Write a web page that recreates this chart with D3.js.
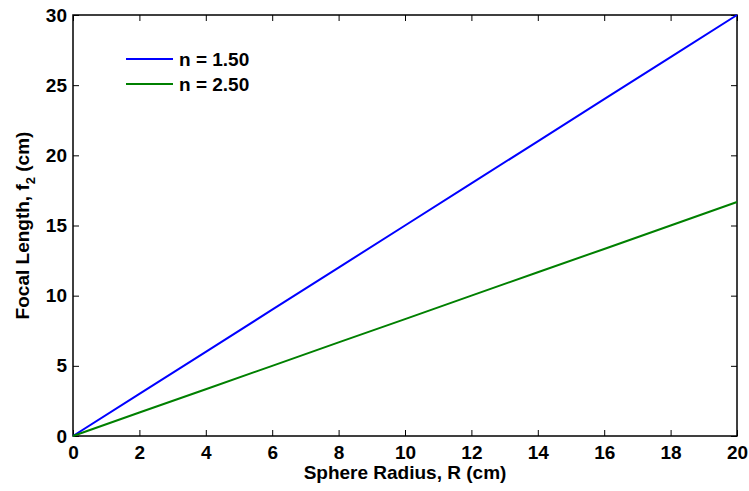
<!DOCTYPE html>
<html>
<head>
<meta charset="utf-8">
<script src="https://cdn.jsdelivr.net/npm/d3@7"></script>
<style>
  html, body { margin: 0; padding: 0; background: #fff; overflow: hidden; }
  svg { display: block; }
  text { font-family: "Liberation Sans", Arial, sans-serif; font-weight: bold; }
</style>
</head>
<body>
<svg class="chart"></svg>
<script>
const svgWidth = 749;
const svgHeight = 491;

// sphere radius R (cm)
const radius = [0, 2, 4, 6, 8, 10, 12, 14, 16, 18, 20];
// focal length f2 (cm)
const focalN150 = [0, 3, 6, 9, 12, 15, 18, 21, 24, 27, 30];
const focalN250 = [0, 1.67, 3.33, 5, 6.67, 8.33, 10, 11.67, 13.33, 15, 16.67];
const seriesNames = ["n = 1.50", "n = 2.50"];
const seriesColors = ["#0000ff", "#008000"];
const xTicks = [0, 2, 4, 6, 8, 10, 12, 14, 16, 18, 20];
const yTicks = [0, 5, 10, 15, 20, 25, 30];

var fontSize = 19;
var margin = { top: 15, right: 12, bottom: 55, left: 73 };
var innerWidth = svgWidth - margin.left - margin.right;
var innerHeight = svgHeight - margin.top - margin.bottom;

const svg = d3.select('.chart')
  .attr("width", svgWidth)
  .attr("height", svgHeight);

var graph = svg.append("g")
  .attr("transform", "translate(" + margin.left + "," + margin.top + ")");

var x = d3.scaleLinear().domain([0, 20]).range([0, innerWidth]);
var y = d3.scaleLinear().domain([0, 30]).range([innerHeight, 0]);

// axes, ticks pointing inward like matlab
function styleAxis(g) {
  g.attr("font-size", fontSize);
  g.select(".domain").remove();
  g.selectAll(".tick line").attr("stroke", "#000").attr("stroke-width", 1);
  g.selectAll(".tick text").attr("font-size", fontSize).attr("fill", "#000");
}

graph.append("g")
  .attr("transform", "translate(0," + innerHeight + ")")
  .call(d3.axisBottom(x).tickValues(xTicks).tickSize(-6).tickPadding(10))
  .call(styleAxis);

graph.append("g")
  .call(d3.axisLeft(y).tickValues(yTicks).tickSize(-6).tickPadding(6))
  .call(styleAxis);

// mirrored ticks on top and right (no labels)
graph.append("g")
  .call(d3.axisTop(x).tickValues(xTicks).tickSize(-6))
  .call(styleAxis)
  .call(function(g) { g.selectAll(".tick text").remove(); });

graph.append("g")
  .attr("transform", "translate(" + innerWidth + ",0)")
  .call(d3.axisRight(y).tickValues(yTicks).tickSize(-6))
  .call(styleAxis)
  .call(function(g) { g.selectAll(".tick text").remove(); });

// box
graph.append("rect")
  .attr("width", innerWidth)
  .attr("height", innerHeight)
  .attr("fill", "none")
  .attr("stroke", "#000")
  .attr("stroke-width", 1.5);

// lines
var line = d3.line()
  .x(function(d) { return x(d[0]); })
  .y(function(d) { return y(d[1]); });

var series = [focalN150, focalN250];
series.forEach(function(vals, i) {
  graph.append("path")
    .datum(radius.map(function(r, j) { return [r, vals[j]]; }))
    .attr("fill", "none")
    .attr("stroke", seriesColors[i])
    .attr("stroke-width", 2)
    .attr("d", line);
});

// legend
var legend = graph.append("g").attr("transform", "translate(53,44)");
seriesNames.forEach(function(name, i) {
  var row = legend.append("g").attr("transform", "translate(0," + (i * 25) + ")");
  row.append("line")
    .attr("x1", 0).attr("x2", 47)
    .attr("stroke", seriesColors[i])
    .attr("stroke-width", 2);
  row.append("text")
    .attr("x", 53)
    .attr("y", 7)
    .attr("font-size", fontSize)
    .text(name);
});

// axis labels
svg.append("text")
  .attr("x", margin.left + innerWidth / 2)
  .attr("y", 479)
  .attr("text-anchor", "middle")
  .attr("font-size", fontSize)
  .text("Sphere Radius, R (cm)");

var yLabel = svg.append("text")
  .attr("transform", "translate(29," + (margin.top + innerHeight / 2) + ") rotate(-90)")
  .attr("text-anchor", "middle")
  .attr("font-size", fontSize);
yLabel.append("tspan").text("Focal Length, f");
yLabel.append("tspan").attr("font-size", 13).attr("dy", 6).text("2");
yLabel.append("tspan").attr("dy", -6).text(" (cm)");
</script>
</body>
</html>
